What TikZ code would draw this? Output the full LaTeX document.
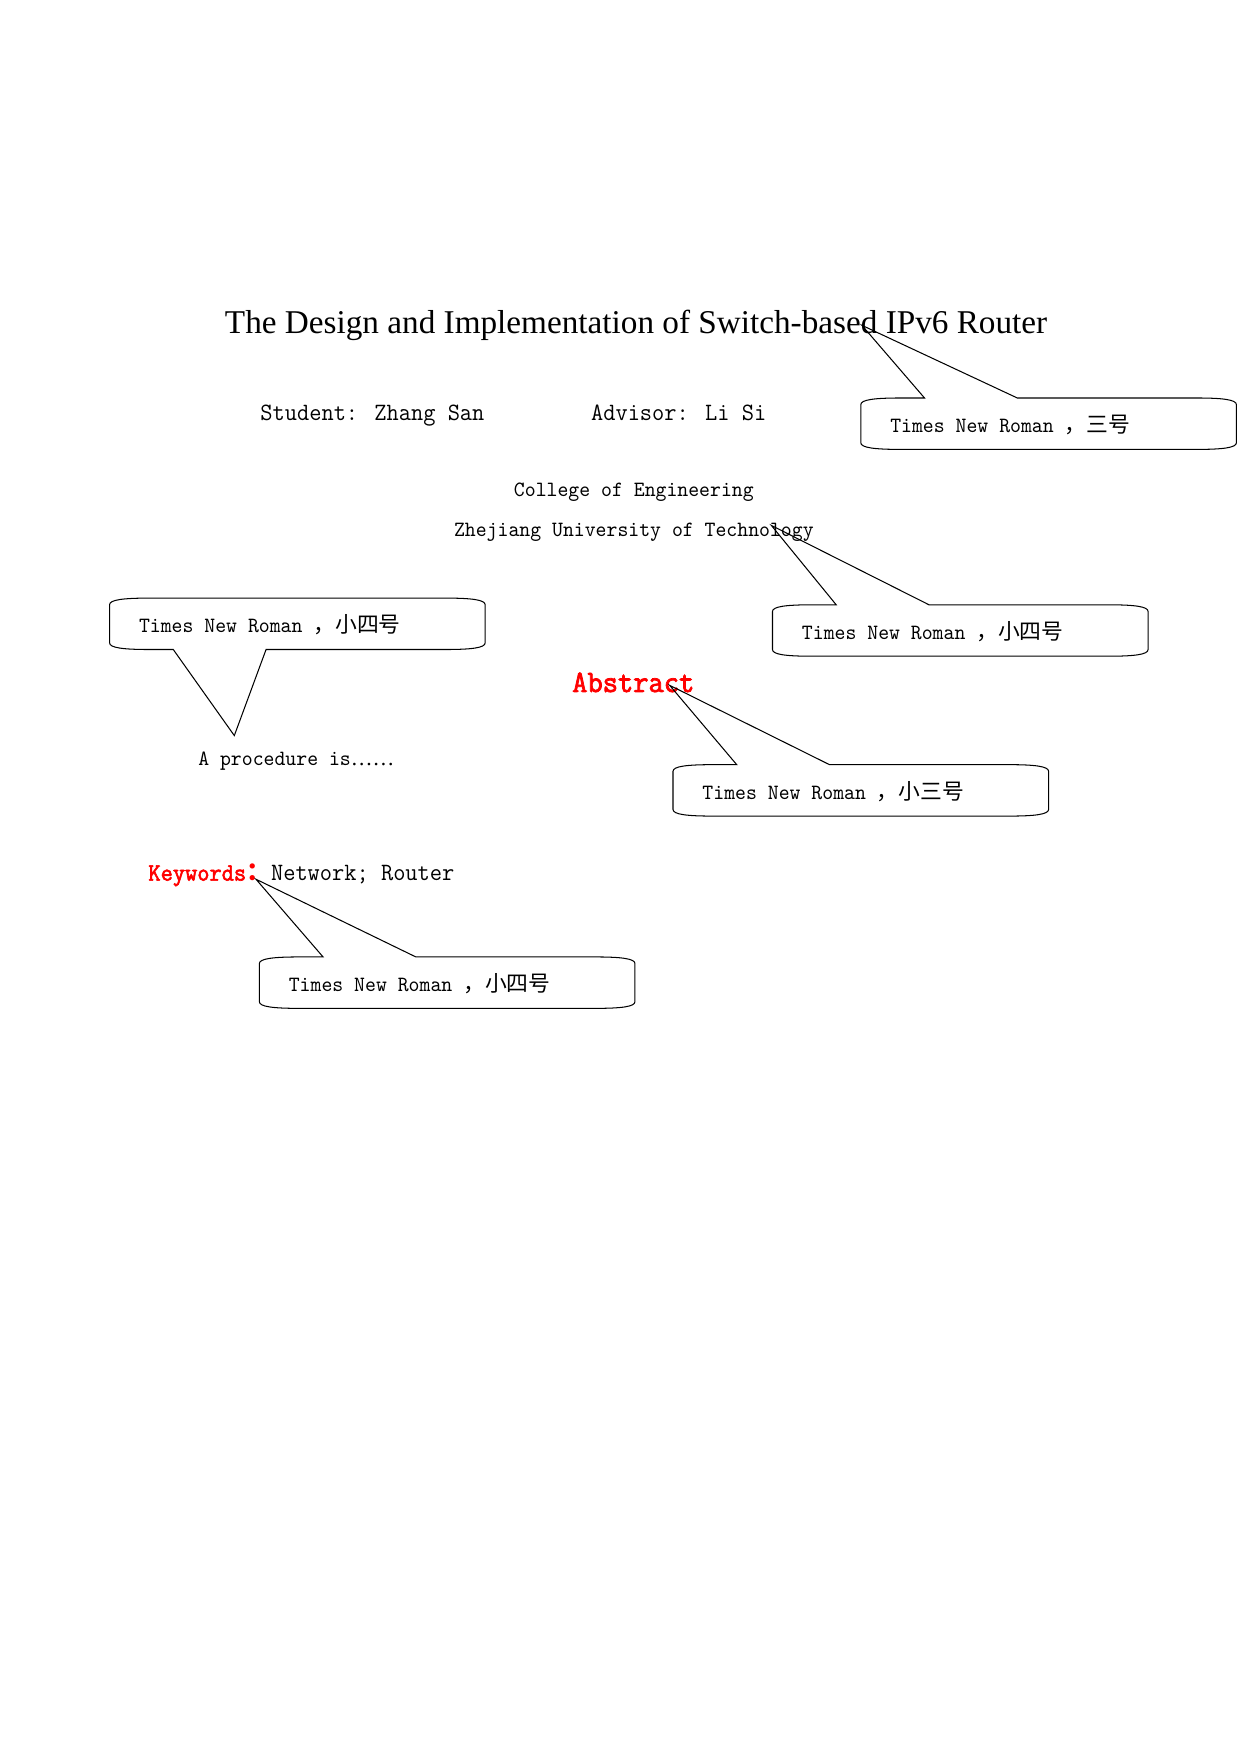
\documentclass[tikz,border=0pt]{standalone}
\usepackage{fontspec}
\setmainfont{Liberation Serif}
\newfontfamily\songti[FakeStretch=0.952]{Latin Modern Mono}
\newfontfamily\songtibold[FakeStretch=0.952, FakeBold=2.5]{Latin Modern Mono}
\newfontfamily\cjk{Noto Sans CJK SC}

\tikzset{
  balloon/.style={draw=black, line width=0.5pt},
  mono/.style={font=\songti\fontsize{10.5}{12}\selectfont, inner sep=0pt},
  monobig/.style={font=\songti\fontsize{12}{14}\selectfont, inner sep=0pt},
}

% #1 Name, #2/#3 linke obere Ecke, #4 Spitze, #5 Schriftgroesse
\newcommand{\callbox}[5]{%
  \draw[balloon] (#2,#3+6) .. controls (#2,#3+1.5) and (#2+12,#3) .. (#2+36,#3) -- (#2+57,#3) -- (#4) -- (#2+140,#3)
    -- (#2+300,#3) .. controls (#2+324,#3) and (#2+336,#3+1.5) .. (#2+336,#3+6) -- (#2+336,#3+40)
    .. controls (#2+336,#3+44.5) and (#2+324,#3+46) .. (#2+300,#3+46) -- (#2+36,#3+46)
    .. controls (#2+12,#3+46) and (#2,#3+44.5) .. (#2,#3+40) -- cycle;
  \node[mono, anchor=base west] (#1) at (#2+26,#3+31) {Times New Roman {\cjk ，#5}};
}

\begin{document}
\begin{tikzpicture}[x=0.18919mm, y=-0.18919mm]
	\useasboundingbox (0,0) rectangle (1110,1569); % Seite A4
	
	\node[anchor=base, inner sep=0pt, font=\fontsize{16}{19}\selectfont] (title) at (569,298) {The Design and Implementation of Switch-based IPv6 Router};
	\node[monobig, anchor=base west] (student) at (232.6,376) {Student: Zhang San};
	\node[monobig, anchor=base west] (advisor) at (528.4,376) {Advisor: Li Si};
	
	\node[mono, anchor=base] (college) at (567,444) {College of Engineering};
	\node[mono, anchor=base] (zjut) at (567,480) {Zhejiang University of Technology};
	
	\node[anchor=base, inner sep=0pt, red, font=\songtibold\fontsize{15}{18}\selectfont] (abstract) at (566.5,619) {Abstract};
	\node[mono, anchor=base west] (procedure) at (177,685) {A procedure is{\rmfamily ……}};
	\node[monobig, anchor=base west] (keywords) at (132.4,787.7) {{\color{red}\songtibold Keywords{\cjk\bfseries ：}}Network; Router};
	
	% Spitzen der Sprechblasen
	\coordinate (tipTitle) at (771,291);
	\coordinate (tipZjut) at (690,470);
	\coordinate (tipAbstract) at (599,613);
	\coordinate (tipKeywords) at (229,786.5);
	\coordinate (tipProcedure) at (209.6,658);
	
	\callbox{boxTitle}{770}{356}{tipTitle}{三号}
	\callbox{boxZjut}{691}{541}{tipZjut}{小四号}
	\callbox{boxAbstract}{602}{684}{tipAbstract}{小三号}
	\callbox{boxKeywords}{232}{856}{tipKeywords}{小四号}
	
	% Blase mit Spitze nach unten
	\draw[balloon] (98,541) .. controls (98,536.5) and (110,535) .. (134,535) -- (398,535)
		.. controls (422,535) and (434,536.5) .. (434,541) -- (434,575)
		.. controls (434,579.5) and (422,581) .. (398,581) -- (238,581) -- (tipProcedure) -- (155,581) -- (134,581)
		.. controls (110,581) and (98,579.5) .. (98,575) -- cycle;
	\node[mono, anchor=base west] (boxProcedure) at (124,566) {Times New Roman {\cjk ，小四号}};
	
	%\draw[help lines, step=50] (0,0) grid (1110,1569);
\end{tikzpicture}
\end{document}
